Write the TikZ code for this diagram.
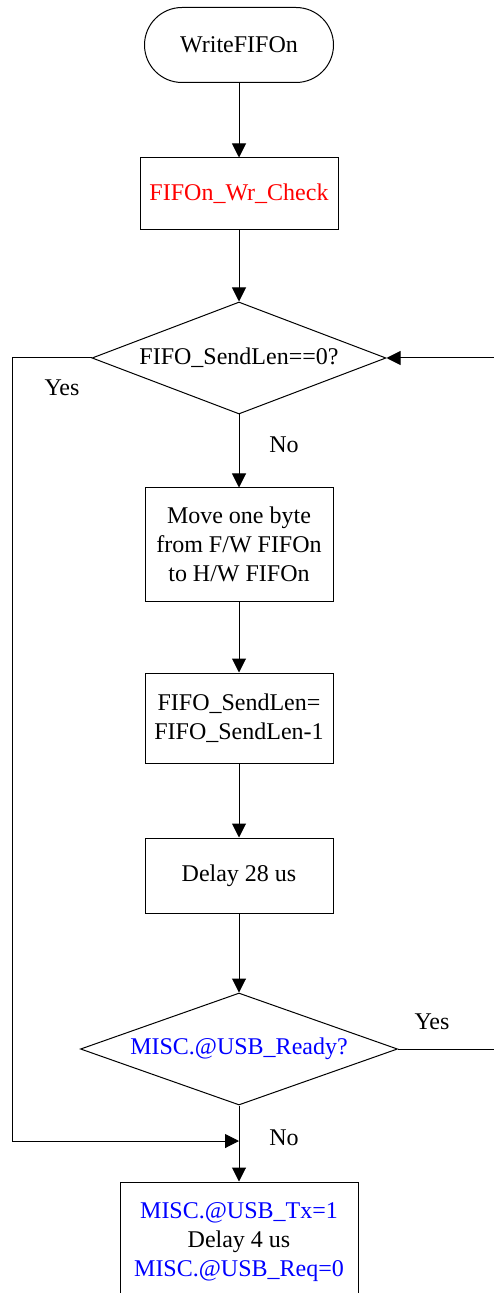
\documentclass[tikz,border=0pt]{standalone}
\usepackage{fontspec}
\setmainfont{Liberation Serif}
\usetikzlibrary{shapes.geometric,arrows.meta}
\definecolor{hotred}{RGB}{255,0,0}
\definecolor{regblue}{RGB}{0,0,255}
\begin{document}
\begin{tikzpicture}[x=0.5pt,y=-0.5pt,
  font=\fontsize{12}{14.5}\selectfont,
  line width=0.5pt,
  flow/.style={-{Triangle[length=7pt,width=7pt]}},
  term/.style={draw,rectangle,rounded corners=18.75pt,minimum width=94.5pt,minimum height=37.5pt,inner sep=0pt},
  proc/.style={draw,rectangle,minimum width=94pt,inner sep=0pt,align=center},
  decide/.style={draw,diamond,inner sep=0pt,aspect=2.7},
  lbl/.style={inner sep=0pt}]
\useasboundingbox (0,0) rectangle (493,1293);

% main column
\node[term] (start) at (239,45) {WriteFIFOn};
\node[proc,minimum width=99pt,minimum height=36pt,text=hotred] (chk) at (239,194) {FIFOn\_Wr\_Check};
\node[decide,minimum width=147pt,minimum height=56pt] (lenz) at (239,358) {FIFO\_SendLen==0?};
\node[proc,minimum height=56.5pt] (move) at (239,544.5) {Move one byte\\from F/W FIFOn\\to H/W FIFOn};
\node[proc,minimum height=45pt] (dec) at (239,718) {FIFO\_SendLen=\\FIFO\_SendLen-1};
\node[proc,minimum height=37.5pt] (wait) at (239,875.5) {Delay 28 us};
\node[decide,minimum width=158.5pt,minimum height=56pt,text=regblue] (rdy) at (239,1049) {MISC.@USB\_Ready?};
\node[proc,minimum width=119pt,minimum height=60pt] (req) at (239,1242)
  {\textcolor{regblue}{MISC.@USB\_Tx=1}\\Delay 4 us\\\textcolor{regblue}{MISC.@USB\_Req=0}};

% junction where the "Yes" branch rejoins
\coordinate (join) at (239,1141);

% connectors
\draw[flow] (start) -- (chk);
\draw[flow] (chk) -- (lenz);
\draw[flow] (lenz) -- (move);
\draw[flow] (move) -- (dec);
\draw[flow] (dec) -- (wait);
\draw[flow] (wait) -- (rdy);
\draw[flow] (rdy) -- (req);
\draw[flow] (lenz.west) -- (12,358) -- (12,1141) -- (join);
\draw[flow] (rdy.east) -- (497,1049) -- (497,358) -- (lenz.east);

% branch labels
\node[lbl] at (62,388) {Yes};
\node[lbl] at (284,445) {No};
\node[lbl] at (432,1022) {Yes};
\node[lbl] at (284,1138) {No};
\end{tikzpicture}
\end{document}
